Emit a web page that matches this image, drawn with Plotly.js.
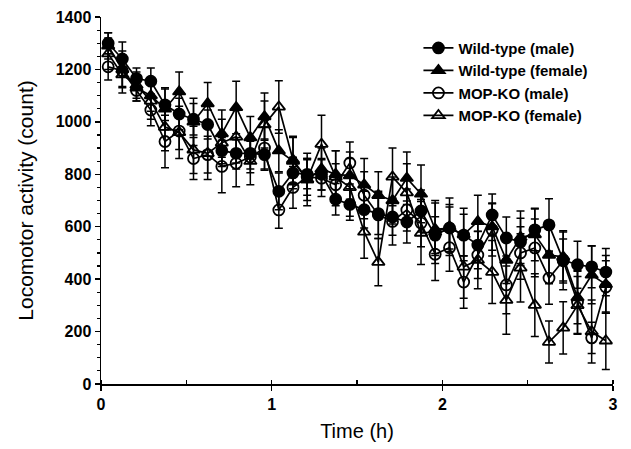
<!DOCTYPE html>
<html>
<head>
<meta charset="utf-8">
<script src="https://cdn.plot.ly/plotly-3.0.1.min.js"></script>
<style>html,body{margin:0;padding:0;background:#fff;}#chart{width:631px;height:449px;}</style>
</head>
<body>
<div id="chart"></div>
<script>
// Time (h), 5-min bins
var timeH = [0.042, 0.125, 0.208, 0.292, 0.375, 0.458, 0.542, 0.625, 0.708, 0.792, 0.875, 0.958,
             1.042, 1.125, 1.208, 1.292, 1.375, 1.458, 1.542, 1.625, 1.708, 1.792, 1.875, 1.958,
             2.042, 2.125, 2.208, 2.292, 2.375, 2.458, 2.542, 2.625, 2.708, 2.792, 2.875, 2.958];

var seriesNames = ["Wild-type (male)", "Wild-type (female)", "MOP-KO (male)", "MOP-KO (female)"];

var wtMale = [1300, 1240, 1165, 1155, 1065, 1030, 1010, 990, 890, 880, 880, 875,
              735, 805, 800, 800, 705, 685, 665, 650, 637, 618, 660, 568,
              595, 568, 530, 645, 557, 542, 588, 607, 473, 455, 447, 427];
var wtMaleErr = [40, 65, 40, 50, 60, 60, 60, 55, 50, 60, 60, 60, 70, 60, 55, 60, 60, 60,
                 70, 80, 70, 80, 80, 70, 80, 80, 90, 80, 80, 90, 80, 100, 80, 90, 80, 90];

var wtFemale = [1290, 1200, 1130, 1100, 1050, 1115, 1000, 1070, 955, 1055, 940, 1020,
                890, 850, 780, 820, 800, 795, 760, 720, 700, 785, 725, 590,
                595, 570, 620, 600, 473, 560, 570, 492, 485, 330, 416, 380];
var wtFemaleErr = [50, 70, 50, 60, 80, 75, 90, 80, 90, 100, 80, 90, 80, 90, 80, 80, 90, 90,
                   100, 90, 90, 100, 110, 100, 90, 100, 100, 90, 90, 100, 100, 110, 100, 100, 110, 110];

var koMale = [1210, 1195, 1120, 1045, 925, 965, 860, 875, 830, 842, 866, 900,
              664, 750, 790, 785, 760, 843, 720, 645, 620, 664, 614, 495,
              520, 389, 492, 588, 378, 500, 519, 404, 470, 313, 176, 370];
var koMaleErr = [50, 60, 40, 60, 100, 70, 80, 70, 100, 90, 60, 80, 70, 80, 70, 70, 80, 80,
                 90, 90, 90, 80, 90, 100, 90, 100, 90, 100, 110, 100, 110, 100, 110, 120, 60, 100];

var koFemale = [1260, 1180, 1140, 1080, 980, 960, 893, 880, 920, 943, 850, 990,
                1057, 855, 780, 915, 790, 750, 580, 465, 790, 730, 576, 580,
                600, 447, 473, 427, 320, 443, 301, 160, 214, 300, 200, 165];
var koFemaleErr = [60, 70, 50, 70, 90, 100, 90, 100, 90, 100, 90, 90, 100, 90, 100, 110, 100, 110,
                   100, 90, 110, 110, 120, 120, 110, 120, 110, 120, 130, 130, 120, 80, 100, 110, 120, 110];

var xTicks = [0, 1, 2, 3];
var yTicks = [0, 200, 400, 600, 800, 1000, 1200, 1400];

function mk(name, y, err, symbol) {
  return {
    type: 'scatter', mode: 'lines+markers', name: name,
    x: timeH, y: y,
    line: {color: '#000', width: 1.7},
    marker: {symbol: symbol, size: 11, color: '#000', line: {color: '#000', width: 1.8}},
    error_y: {type: 'data', array: err, visible: true, color: '#000', thickness: 1.5, width: 4}
  };
}

var data = [
  mk(seriesNames[0], wtMale, wtMaleErr, 'circle'),
  mk(seriesNames[1], wtFemale, wtFemaleErr, 'triangle-up'),
  mk(seriesNames[2], koMale, koMaleErr, 'circle-open'),
  mk(seriesNames[3], koFemale, koFemaleErr, 'triangle-up-open')
];

var layout = {
  width: 631, height: 449,
  margin: {l: 101, r: 18, t: 17, b: 65},
  paper_bgcolor: '#fff', plot_bgcolor: '#fff',
  font: {family: 'Liberation Sans, Arial, sans-serif', color: '#000'},
  showlegend: true,
  legend: {x: 0.62, y: 0.96, xanchor: 'left', yanchor: 'top', bgcolor: 'rgba(0,0,0,0)',
           font: {size: 15, family: 'Liberation Sans, Arial, sans-serif', weight: 'bold'},
           tracegroupgap: 0, itemwidth: 30},
  xaxis: {
    range: [0, 3], tickvals: xTicks, ticktext: xTicks.map(String),
    showgrid: false, zeroline: false, showline: true, linecolor: '#000', linewidth: 1.5,
    ticks: 'outside', ticklen: 5, tickwidth: 1.5, tickcolor: '#000',
    tickfont: {size: 16, weight: 'bold'},
    minor: {dtick: 0.5, ticks: 'inside', ticklen: 4, tickwidth: 1.2, tickcolor: '#000'},
    title: {text: 'Time (h)', font: {size: 20}, standoff: 12}
  },
  yaxis: {
    range: [0, 1400], tickvals: yTicks, ticktext: yTicks.map(String),
    showgrid: false, zeroline: false, showline: true, linecolor: '#000', linewidth: 1.5,
    ticks: 'outside', ticklen: 5, tickwidth: 1.5, tickcolor: '#000',
    tickfont: {size: 16, weight: 'bold'},
    minor: {dtick: 50, ticks: 'outside', ticklen: 3, tickwidth: 1.2, tickcolor: '#000'},
    title: {text: 'Locomotor activity (count)', font: {size: 21}, standoff: 16}
  }
};

Plotly.newPlot('chart', data, layout, {displayModeBar: false, staticPlot: true});
</script>
</body>
</html>
